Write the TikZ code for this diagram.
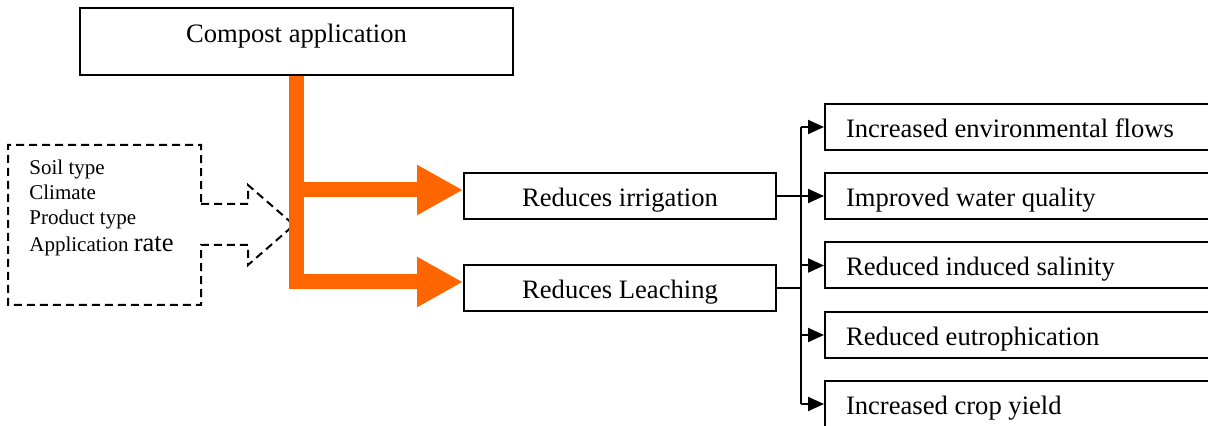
\documentclass[tikz,border=0pt]{standalone}
\usepackage{fontspec}
\setmainfont{Liberation Serif}
\usetikzlibrary{arrows.meta}
\definecolor{compostorange}{HTML}{FF6600}
\tikzset{
	mainbox/.style={draw, line width=1pt, inner sep=0pt, minimum width=216.5pt, minimum height=33.5pt, text height=9pt, text depth=7.5pt, font=\fontsize{13.3}{16}\selectfont},
	reducebox/.style={draw, line width=1pt, inner sep=0pt, minimum width=156pt, minimum height=23pt, text height=12pt, text depth=1.5pt, font=\fontsize{13.3}{16}\selectfont},
	effectbox/.style={draw, line width=1pt, anchor=west, inner xsep=10.5pt, inner ysep=0pt, text width=183pt, align=flush left, minimum height=23pt, text height=12pt, text depth=1.5pt, font=\fontsize{13.3}{16}\selectfont},
	orangebar/.style={draw=compostorange, line width=7.5pt, line join=miter, -{Triangle[length=23pt, width=23.5pt]}},
	link/.style={line width=1pt},
	linkarrow/.style={line width=1pt, -{Triangle[length=8pt, width=7pt]}},
}
\begin{document}
\begin{tikzpicture}[x=0.5pt, y=-0.5pt]
		%%%%% START %%%%%
		\useasboundingbox (0, 0) rectangle (1208, 426);
		
		\node[mainbox] (compost) at (296.5, 41.5) {Compost application};
		
		\node[reducebox] (irrigation) at (620, 196) {Reduces irrigation};
		\node[reducebox] (leaching) at (620, 288) {Reduces Leaching};
		
		\node[effectbox] (flows) at (824, 127) {Increased environmental flows};
		\node[effectbox] (quality) at (824, 196) {Improved water quality};
		\node[effectbox] (salinity) at (824, 265.5) {Reduced induced salinity};
		\node[effectbox] (eutro) at (824, 335) {Reduced eutrophication};
		\node[effectbox] (yield) at (824, 404) {Increased crop yield};
		
		% dashed factors callout
		\draw[line width=1pt, dash pattern=on 4pt off 2.5pt] (201, 204) -- (248, 204) -- (248, 185) -- (294, 225) -- (248, 265) -- (248, 245) -- (201, 245) -- (201, 305) -- (8, 305) -- (8, 145) -- (201, 145) -- cycle;
		\node[anchor=north west, inner sep=0pt, align=left, font=\fontsize{10.5}{12.5}\selectfont] (factors) at (29, 160) {Soil type\\Climate\\Product type\\[1pt]Application {\fontsize{13.3}{12.5}\selectfont rate}};
		
		% orange arrows
		\coordinate (topjoin) at (296.5, 190);
		\coordinate (lowjoin) at (296.5, 282);
		\draw[orangebar] (compost.south) |- (lowjoin -| leaching.west);
		\draw[orangebar] (topjoin) -- (topjoin -| irrigation.west);
		
		% split to effects
		\coordinate (splitx) at (801, 0);
		\draw[link] (irrigation.east) -- (irrigation.east -| splitx);
		\draw[link] (leaching.east) -- (leaching.east -| splitx);
		\draw[link] (splitx |- flows.west) -- (splitx |- yield.west);
		\foreach \n in {flows, quality, salinity, eutro, yield}
			\draw[linkarrow] (splitx |- \n.west) -- (\n.west);
		
		%%%%% END %%%%%
\end{tikzpicture}
\end{document}
